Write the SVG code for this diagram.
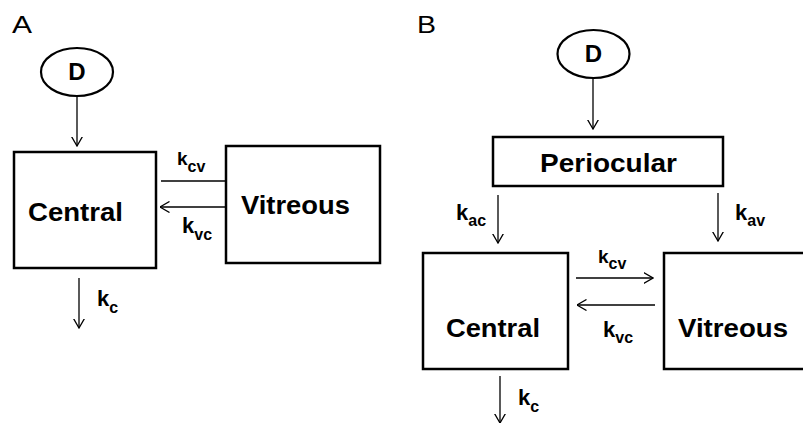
<svg xmlns="http://www.w3.org/2000/svg" width="803" height="423" viewBox="0 0 803 423">
<defs>
<style>
.box{fill:#fff;stroke:#000;stroke-width:2.5}
.ell{fill:#fff;stroke:#000;stroke-width:2.2}
.ln{stroke:#000;stroke-width:1.3;fill:none}
.t{font-family:"Liberation Sans",Arial,sans-serif;font-weight:bold;fill:#000}
.big{font-size:26.5px}
.k{font-size:22px}
.ks{font-size:19px}
.sub{font-size:16px}
.pl{font-family:"Liberation Sans",Arial,sans-serif;font-size:24px;fill:#000}
</style>
<marker id="ah" viewBox="0 0 10 12" refX="9.5" refY="6" markerWidth="10" markerHeight="12" markerUnits="userSpaceOnUse" orient="auto">
<path d="M0,0.5 L9.5,6 L0,11.5" fill="none" stroke="#000" stroke-width="1.3"/>
</marker>
</defs>
<rect width="803" height="423" fill="#fff"/>
<text class="pl" x="12" y="33" textLength="20" lengthAdjust="spacingAndGlyphs">A</text>
<text class="pl" x="417" y="33" textLength="19" lengthAdjust="spacingAndGlyphs">B</text>
<g id="connectors">
<line class="ln" x1="77" y1="96" x2="77" y2="146" marker-end="url(#ah)"/>
<line class="ln" x1="161" y1="181" x2="225" y2="181"/>
<line class="ln" x1="225" y1="207" x2="160" y2="207" marker-end="url(#ah)"/>
<line class="ln" x1="79" y1="278" x2="79" y2="328" marker-end="url(#ah)"/>
<line class="ln" x1="593" y1="79" x2="593" y2="129" marker-end="url(#ah)"/>
<line class="ln" x1="498" y1="195" x2="498" y2="243" marker-end="url(#ah)"/>
<line class="ln" x1="718" y1="193" x2="718" y2="241" marker-end="url(#ah)"/>
<line class="ln" x1="576" y1="278" x2="653" y2="278" marker-end="url(#ah)"/>
<line class="ln" x1="655" y1="305" x2="577" y2="305" marker-end="url(#ah)"/>
<line class="ln" x1="500" y1="376" x2="500" y2="423" marker-end="url(#ah)"/>
<text class="t ks" x="177" y="165">k<tspan class="sub" dy="7">cv</tspan></text>
<text class="t k" x="182" y="233">k<tspan class="sub" dy="7">vc</tspan></text>
<text class="t k" x="97" y="306">k<tspan class="sub" dy="7">c</tspan></text>
<text class="t k" x="456" y="220">k<tspan class="sub" dy="6">ac</tspan></text>
<text class="t k" x="735" y="220">k<tspan class="sub" dy="6">av</tspan></text>
<text class="t ks" x="598" y="263">k<tspan class="sub" dy="6">cv</tspan></text>
<text class="t k" x="603" y="337">k<tspan class="sub" dy="6">vc</tspan></text>
<text class="t k" x="518" y="405">k<tspan class="sub" dy="7">c</tspan></text>
</g>
<g id="nodeA_D">
<ellipse class="ell" cx="77" cy="72" rx="36" ry="24"/>
<text class="t" x="77" y="80" font-size="24" text-anchor="middle">D</text>
</g>
<g id="nodeA_Central">
<rect class="box" x="14" y="152" width="142" height="116"/>
<text class="t big" x="28" y="221" textLength="95" lengthAdjust="spacingAndGlyphs">Central</text>
</g>
<g id="nodeA_Vitreous">
<rect class="box" x="226" y="146" width="154" height="117"/>
<text class="t big" x="241" y="214" textLength="109" lengthAdjust="spacingAndGlyphs">Vitreous</text>
</g>
<g id="nodeB_D">
<ellipse class="ell" cx="593.5" cy="54" rx="36" ry="24"/>
<text class="t" x="593.5" y="62" font-size="24" text-anchor="middle">D</text>
</g>
<g id="nodeB_Periocular">
<rect class="box" x="493" y="137" width="230" height="49"/>
<text class="t big" x="540" y="172" textLength="137" lengthAdjust="spacingAndGlyphs">Periocular</text>
</g>
<g id="nodeB_Central">
<rect class="box" x="423" y="253" width="145" height="116"/>
<text class="t big" x="446" y="337" textLength="94" lengthAdjust="spacingAndGlyphs">Central</text>
</g>
<g id="nodeB_Vitreous">
<rect class="box" x="664" y="253" width="150" height="116"/>
<text class="t big" x="678" y="337" textLength="110" lengthAdjust="spacingAndGlyphs">Vitreous</text>
</g>
</svg>
